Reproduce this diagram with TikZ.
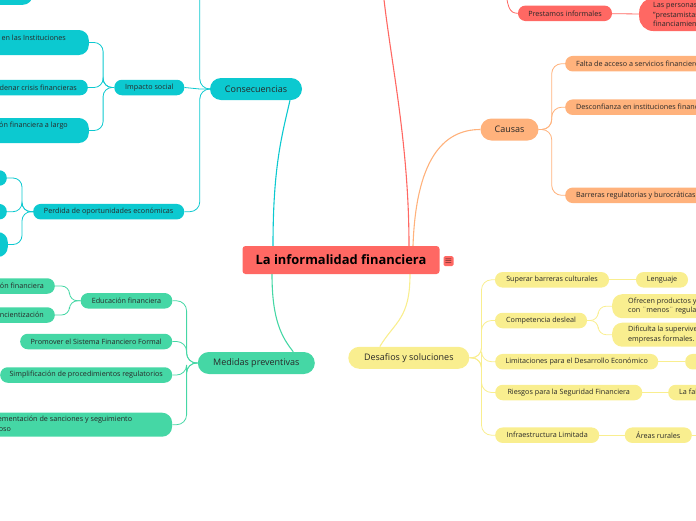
\documentclass[tikz,border=0pt]{standalone}
\usepackage{fontspec}
\setmainfont{Open Sans}
\usepackage{tikz}
\usetikzlibrary{positioning, calc, backgrounds}

\definecolor{mapred}{RGB}{255,104,99}
\definecolor{mapcyan}{RGB}{12,201,208}
\definecolor{mapgreen}{RGB}{69,215,165}
\definecolor{maporange}{RGB}{255,178,124}
\definecolor{mapyellow}{RGB}{249,238,143}
\definecolor{maptext}{RGB}{40,40,40}

\tikzset{
  central/.style={fill=mapred, rounded corners=3pt, minimum width=197pt, minimum height=28pt,
    inner sep=0pt, font=\fontsize{12.9}{15}\selectfont\bfseries, text=black},
  iconbox/.style={fill=mapred, rounded corners=1.5pt, minimum size=10pt, inner sep=0pt,
    font=\fontsize{9}{9}\selectfont, text=black},
  mainbox/.style={fill=#1, rounded corners=11pt, minimum height=22pt, inner sep=0pt,
    font=\fontsize{9}{11}\selectfont, text=maptext},
  subbox/.style={fill=#1, rounded corners=7.5pt, minimum height=15.5pt, inner ysep=0pt,
    inner xsep=11pt, font=\fontsize{7.2}{9.6}\selectfont, text=maptext},
  tallbox/.style={subbox=#1, align=left, rounded corners=10pt, minimum height=25pt},
  link/.style={draw=#1, line width=0.8pt},
  mainlink/.style={draw=#1, line width=1.1pt}
}

\begin{document}
\begin{tikzpicture}[x=1pt, y=-1pt]
\useasboundingbox (0,0) rectangle (696,520);
\clip (0,0) rectangle (696,520);

% Central topic
\node[central] (central) at (341,260) {La informalidad financiera};
\node[iconbox] (menu) at (448.5,261) {$\equiv$};

% Red branch
\node[subbox=mapred, minimum width=94pt, inner xsep=0pt] (prestamos) at (565,13.3) {Prestamos informales};
\node[tallbox=mapred, anchor=west, rounded corners=14pt, minimum height=33pt, inner xsep=14pt] (personas) at (639,14.5)
  {Las personas recurren a\\"prestamistas" para obtener\\financiamiento};
\coordinate (redtop) at (382,-20);
\coordinate (prestup) at (506,-20);

% Consecuencias
\node[mainbox=mapcyan, minimum width=92pt] (consec) at (256,89) {Consecuencias};
\node[subbox=mapcyan, minimum width=70pt, inner xsep=0pt] (impacto) at (149.3,87.5) {Impacto social};
\node[tallbox=mapcyan, anchor=east, inner xsep=23pt] (confianza) at (89,42.5)
  {Pérdida de confianza en las Instituciones\\financieras};
\node[subbox=mapcyan, anchor=east] (crisis) at (88,87.5) {Desencadenar crisis financieras};
\node[tallbox=mapcyan, anchor=east, inner xsep=21pt] (exclusion) at (89,130.5)
  {Exclusión financiera a largo\\plazo};
\node[tallbox=mapcyan, anchor=south east] (fiscal) at (33,5) {Menores ingresos fiscales\\y garantías perdidas};
\node[subbox=mapcyan, minimum width=151pt, inner xsep=0pt] (perdida) at (108.7,211.7) {Perdida de oportunidades económicas};
\node[subbox=mapcyan, anchor=east] (inversion) at (7,178) {Menor inversión};
\node[subbox=mapcyan, anchor=east] (crecim) at (7,211.7) {Bajo crecimiento};
\node[tallbox=mapcyan, anchor=east] (credito) at (8,244.5) {Limitado acceso\\al crédito formal};
\coordinate (consectop) at (184,-40);

% Medidas preventivas
\node[mainbox=mapgreen, minimum width=117pt] (medidas) at (256.3,363) {Medidas preventivas};
\node[subbox=mapgreen, minimum width=91.6pt, inner xsep=0pt] (educacion) at (126.5,300.8) {Educación financiera};
\node[subbox=mapgreen, anchor=east] (alfabet) at (55,286) {Alfabetización financiera};
\node[subbox=mapgreen, anchor=east] (concien) at (55,315) {Concientización};
\node[subbox=mapgreen, minimum width=152pt, inner xsep=0pt] (promover) at (96.2,341.5) {Promover el Sistema Financiero Formal};
\node[subbox=mapgreen, minimum width=172pt, inner xsep=0pt] (simplif) at (86.2,375) {Simplificación de procedimientos regulatorios};
\node[tallbox=mapgreen, anchor=east, minimum height=24pt, inner xsep=40pt] (sanciones) at (172.3,424.7)
  {Implementación de sanciones y seguimiento\\riguroso};

% Causas
\node[mainbox=maporange, minimum width=58pt] (causas) at (509.5,129.5) {Causas};
\node[subbox=maporange, anchor=west] (acceso) at (565,63.7) {Falta de acceso a servicios financieros};
\node[subbox=maporange, anchor=west] (desconf) at (565,107.2) {Desconfianza en instituciones financieras};
\node[subbox=maporange, anchor=west] (barreras) at (565,195.3) {Barreras regulatorias y burocráticas};

% Desafios y soluciones
\node[mainbox=mapyellow, minimum width=121pt] (desafios) at (408.8,357.8) {Desafios y soluciones};
\node[subbox=mapyellow, minimum width=114pt, inner xsep=0pt] (culturales) at (552,279.8) {Superar barreras culturales};
\node[subbox=mapyellow, minimum width=52pt, inner xsep=0pt] (lenguaje) at (662,279.8) {Lenguaje};
\node[subbox=mapyellow, minimum width=92pt, inner xsep=0pt] (desleal) at (541,320.5) {Competencia desleal};
\node[tallbox=mapyellow, anchor=west, minimum height=24pt, inner xsep=16pt] (ofrecen) at (612,306.2)
  {Ofrecen productos y servicios\\con ¨menos¨ regulaciones};
\node[tallbox=mapyellow, anchor=west, minimum height=24pt, inner xsep=16pt] (dificulta) at (612,334.7)
  {Dificulta la supervivencia de las\\empresas formales.};
\node[subbox=mapyellow, minimum width=163pt, inner xsep=0pt] (limitac) at (576.7,361.7) {Limitaciones para el Desarrollo Económico};
\node[subbox=mapyellow, anchor=west] (desarrollo) at (685,361.7) {Menor crecimiento};
\node[subbox=mapyellow, minimum width=147pt, inner xsep=0pt] (riesgos) at (568.7,392.5) {Riesgos para la Seguridad Financiera};
\node[subbox=mapyellow, anchor=west] (regulacion) at (668,392.5) {La falta de regulación};
\node[subbox=mapyellow, minimum width=104pt, inner xsep=0pt] (infraest) at (547.2,435.2) {Infraestructura Limitada};
\node[subbox=mapyellow, minimum width=67pt, inner xsep=0pt] (rurales) at (658.3,435.2) {Áreas rurales};
\coordinate (ruralnext) at (720,435.2);

% Connectors
\begin{scope}[on background layer]
  \clip (0,0) rectangle (696,520);
  % main branches
  \draw[mainlink=mapred] ($(central.north)+(68,0)$) .. controls +(0,-110) and +(6,70) .. (redtop);
  \draw[mainlink=mapcyan] ($(central.north)+(-68,0)$) .. controls +(0,-80) and +(-8,35) .. ($(consec.south)+(34,0)$);
  \draw[mainlink=maporange] ($(central.north)+(72,0)$) .. controls +(3,-85) and +(-38,0) .. (causas.west);
  \draw[mainlink=mapgreen] ($(central.south)+(-69,0)$) .. controls +(0,45) and +(-12,-15) .. ($(medidas.north)+(37,0)$);
  \draw[mainlink=mapyellow] ($(central.south)+(69,0)$) .. controls +(0,45) and +(15,-25) .. ($(desafios.north)+(-29,0)$);

  % red subtree
  \draw[link=mapred] (prestup) .. controls +(0,28) and +(-8,0) .. (prestamos.west);
  \draw[link=mapred] (prestamos) -- (personas);

  % cyan subtree
  \draw[link=mapcyan, rounded corners=10pt] (consec.west) -- ++(-10,0) |- (consectop);
  \draw[link=mapcyan, rounded corners=10pt] (consec.west) -- ++(-10,0) |- (perdida.east);
  \draw[link=mapcyan] (consec.west) -- ++(-10,0) -- (impacto.east);
  \foreach \kid in {confianza,crisis,exclusion}
    \draw[link=mapcyan, rounded corners=9pt] (impacto.west) -- ++(-11,0) |- (\kid.east);
  \foreach \kid in {inversion,crecim,credito}
    \draw[link=mapcyan, rounded corners=9pt] (perdida.west) -- ++(-11,0) |- (\kid.east);

  % green subtree
  \foreach \kid in {educacion,promover,simplif,sanciones}
    \draw[link=mapgreen, rounded corners=10pt] (medidas.west) -- ++(-11,0) |- (\kid.east);
  \foreach \kid in {alfabet,concien}
    \draw[link=mapgreen, rounded corners=8pt] (educacion.west) -- ++(-11,0) |- (\kid.east);

  % orange subtree
  \foreach \kid in {acceso,desconf,barreras}
    \draw[link=maporange, rounded corners=10pt] (causas.east) -- ++(13,0) |- (\kid.west);

  % yellow subtree
  \foreach \kid in {culturales,desleal,limitac,riesgos,infraest}
    \draw[link=mapyellow, rounded corners=10pt] (desafios.east) -- ++(12,0) |- (\kid.west);
  \foreach \kid in {ofrecen,dificulta}
    \draw[link=mapyellow, rounded corners=8pt] (desleal.east) -- ++(11,0) |- (\kid.west);
  \draw[link=mapyellow] (culturales) -- (lenguaje);
  \draw[link=mapyellow] (limitac) -- (desarrollo);
  \draw[link=mapyellow] (riesgos) -- (regulacion);
  \draw[link=mapyellow] (infraest) -- (rurales);
  \draw[link=mapyellow] (rurales) -- (ruralnext);
\end{scope}
\end{tikzpicture}
\end{document}
